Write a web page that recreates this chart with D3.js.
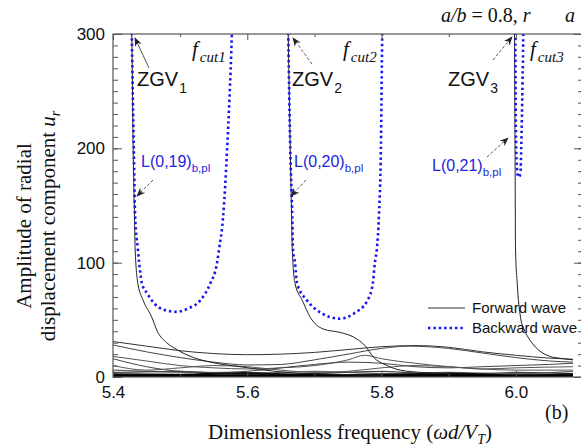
<!DOCTYPE html>
<html><head><meta charset="utf-8">
<script src="https://cdnjs.cloudflare.com/ajax/libs/d3/7.8.5/d3.min.js"></script>
<style>
html,body{margin:0;padding:0;background:#fff;}
svg{display:block;}
</style></head>
<body>
<script>
// ---------- data ----------
const xMajorTicks = [5.4, 5.6, 5.8, 6.0];
const xMinorTicks = [5.5, 5.7, 5.9];
const yMajorTicks = [0, 100, 200, 300];
const yMinorTicks = d3.range(0, 301, 10);

// backward waves (blue dotted)
const backward19 = [[5.4275,320],[5.428,300],[5.431,200],[5.433,140],[5.437,112],[5.439,100],[5.443,82],[5.451,73],[5.462,64],[5.475,59],[5.495,57],[5.512,60],[5.53,67],[5.545,82],[5.555,100],[5.558,112],[5.564,140],[5.570,200],[5.577,300],[5.578,320]];
const backward20 = [[5.6605,320],[5.661,300],[5.664,200],[5.667,140],[5.668,112],[5.671,100],[5.674,82],[5.689,67],[5.71,56],[5.738,51],[5.76,56],[5.779,67],[5.787,82],[5.790,100],[5.793,112],[5.796,140],[5.799,200],[5.801,300],[5.8015,320]];
const backward21 = [[5.9985,320],[5.999,300],[6.0,220],[6.001,190],[6.003,176],[6.005,175],[6.007,180],[6.008,200],[6.010,260],[6.011,300],[6.0112,320]];

// forward waves (black solid)
const zgv1 = [[5.427,320],[5.428,300],[5.430,200],[5.432,140],[5.433,112],[5.437,82],[5.445,67],[5.458,52],[5.466,40],[5.48,30],[5.495,24],[5.52,17],[5.545,13],[5.589,9],[5.62,6.5],[5.659,4],[5.72,2.5],[5.8,1.5]];
const zgv2 = [[5.6605,320],[5.661,300],[5.664,200],[5.666,140],[5.667,112],[5.671,82],[5.682,67],[5.694,52],[5.713,42],[5.738,39],[5.758,35],[5.776,27],[5.787,18],[5.808,10],[5.828,6],[5.86,4],[5.9,3]];
const zgv3 = [[5.9978,320],[5.998,300],[5.9988,200],[5.9995,112],[6.002,82],[6.007,52],[6.012,42],[6.018,35],[6.025,29],[6.033,24],[6.051,18],[6.071,16],[6.085,15]];
const fw1 = [[5.4,31],[5.45,27],[5.5,23],[5.55,20.5],[5.6,19.5],[5.65,20],[5.7,21.5],[5.75,24],[5.8,26.5],[5.85,27.5],[5.9,26],[5.95,22],[6.0,19],[6.05,16.5],[6.085,15.5]];
const fw2 = [[5.4,28],[5.45,22],[5.5,17],[5.55,13],[5.6,10.5],[5.65,11],[5.7,15],[5.75,20],[5.8,25],[5.84,27],[5.9,25],[5.95,21],[6.0,17],[6.05,14],[6.085,13]];
const fw3 = [[5.4,18],[5.45,14],[5.5,10],[5.55,8],[5.6,7],[5.65,8],[5.7,10],[5.75,15],[5.775,19],[5.8,16],[5.85,12],[5.9,9],[5.95,7],[6.0,6],[6.085,6]];
const fw4 = [[5.4,16],[5.45,9],[5.5,5],[5.55,4],[5.6,5],[5.65,8],[5.7,11],[5.75,13],[5.8,12],[5.85,9],[5.9,8],[5.95,9],[6.0,10],[6.05,11],[6.085,12]];
const fw5 = [[5.4,10],[5.45,6],[5.5,8],[5.55,10],[5.6,9],[5.65,6],[5.7,4],[5.75,5],[5.8,8],[5.85,10],[5.9,9],[5.95,7],[6.0,8],[6.085,9]];
const fw6 = [[5.4,6],[5.5,4],[5.6,3],[5.7,5],[5.8,3],[5.9,4],[6.0,3],[6.085,5]];
const fw7 = [[5.4,4],[5.5,5],[5.6,2],[5.7,3],[5.8,5],[5.9,2],[6.0,4],[6.085,3]];
const fw8 = [[5.4,2.5],[5.5,2],[5.6,3.5],[5.7,1.5],[5.8,2],[5.9,3],[6.0,1.5],[6.085,2.5]];
const fw9 = [[5.4,1],[5.5,1.5],[5.6,1],[5.7,2],[5.8,1],[5.9,1.5],[6.0,1],[6.085,1]];
const fw10 = [[5.4,0.4],[5.6,0.4],[5.8,0.4],[6.085,0.4]];

// ---------- layout ----------
const W = 581, H = 446;
const m = {left:113, right:583, top:34, bottom:377};
const svg = d3.select("body").append("svg").attr("width", W).attr("height", H);
const x = d3.scaleLinear().domain([5.4, 6.1]).range([m.left, m.right]);
const y = d3.scaleLinear().domain([0, 300]).range([m.bottom, m.top]);

svg.append("clipPath").attr("id","clip").append("rect")
  .attr("x", m.left).attr("y", m.top).attr("width", m.right-m.left).attr("height", m.bottom-m.top);

const line = d3.line().x(d=>x(d[0])).y(d=>y(d[1])).curve(d3.curveMonotoneX);
const plot = svg.append("g").attr("clip-path","url(#clip)");

const forward = [
  {d:fw1,c:"#333",w:1},{d:fw2,c:"#444",w:1},{d:fw3,c:"#555",w:1},{d:fw4,c:"#444",w:1},
  {d:fw5,c:"#555",w:1},{d:fw6,c:"#666",w:1.2},{d:fw7,c:"#444",w:1.2},{d:fw8,c:"#111",w:2},
  {d:fw9,c:"#000",w:2.5},{d:fw10,c:"#000",w:3},
  {d:zgv1,c:"#222",w:1},{d:zgv2,c:"#222",w:1},{d:zgv3,c:"#222",w:1}
];
forward.forEach(s=>{
  plot.append("path").attr("d", line(s.d)).attr("fill","none")
    .attr("stroke", s.c).attr("stroke-width", s.w);
});
[backward19, backward20, backward21].forEach(s=>{
  plot.append("path").attr("d", line(s)).attr("fill","none")
    .attr("stroke","#1515f0").attr("stroke-width",2.6).attr("stroke-dasharray","2.4 3");
});

// ---------- axes ----------
const axCol = "#555";
function styleAxis(g){
  g.select(".domain").remove();
  g.selectAll(".tick line").attr("stroke", axCol).attr("stroke-width",1);
  g.selectAll(".tick text").attr("font-family","'Liberation Sans', Arial, sans-serif")
    .attr("font-size",17).attr("fill","#111");
}
svg.append("g").attr("transform",`translate(0,${m.bottom})`)
  .call(d3.axisBottom(x).tickValues(xMajorTicks).tickSize(-6).tickPadding(9).tickFormat(d3.format(".1f"))).call(styleAxis);
svg.append("g").attr("transform",`translate(0,${m.bottom})`)
  .call(d3.axisBottom(x).tickValues(xMinorTicks).tickSize(-3).tickFormat("")).call(styleAxis);
svg.append("g").attr("transform",`translate(0,${m.top})`)
  .call(d3.axisTop(x).tickValues(xMajorTicks).tickSize(-6).tickFormat("")).call(styleAxis);
svg.append("g").attr("transform",`translate(0,${m.top})`)
  .call(d3.axisTop(x).tickValues(xMinorTicks).tickSize(-3).tickFormat("")).call(styleAxis);
svg.append("g").attr("transform",`translate(${m.left},0)`)
  .call(d3.axisLeft(y).tickValues(yMinorTicks).tickSize(-5).tickFormat("")).call(styleAxis);
svg.append("g").attr("transform",`translate(${m.left},0)`)
  .call(d3.axisLeft(y).tickValues(yMajorTicks).tickSize(-9).tickPadding(8)).call(styleAxis);
svg.append("g").attr("transform",`translate(${m.right},0)`)
  .call(d3.axisRight(y).tickValues(yMinorTicks).tickSize(-5).tickFormat("")).call(styleAxis);
svg.append("g").attr("transform",`translate(${m.right},0)`)
  .call(d3.axisRight(y).tickValues(yMajorTicks).tickSize(-9).tickFormat("")).call(styleAxis);
svg.append("rect").attr("x",m.left).attr("y",m.top).attr("width",m.right-m.left).attr("height",m.bottom-m.top)
  .attr("fill","none").attr("stroke",axCol).attr("stroke-width",1.2);

// ---------- annotations ----------
const sans = "'Liberation Sans', Arial, sans-serif";
const serif = "'Liberation Serif', 'Times New Roman', serif";
const defs = svg.append("defs");
defs.append("marker").attr("id","ah").attr("viewBox","0 0 10 10").attr("refX",9).attr("refY",5)
  .attr("markerWidth",9).attr("markerHeight",9).attr("orient","auto").attr("markerUnits","userSpaceOnUse")
  .append("path").attr("d","M0,1 L10,5 L0,9 L3,5 Z").attr("fill","#222");

function arrow(x1,y1,x2,y2,dash){
  svg.append("line").attr("x1",x1).attr("y1",y1).attr("x2",x2).attr("y2",y2)
    .attr("stroke","#444").attr("stroke-width",0.9).attr("stroke-dasharray",dash?"3 2":null)
    .attr("marker-end","url(#ah)");
}
arrow(149,68,135,38,false);
arrow(312,64,293,38,true);
arrow(493,60,512,37,true);
arrow(153,180,137,196,true);
arrow(306,180,291,196,true);
arrow(487,157,508,138,true);

function zgv(xp, n){
  const t = svg.append("text").attr("x",xp).attr("y",86).attr("font-family",sans).attr("font-size",20).attr("fill","#111");
  t.append("tspan").text("ZGV");
  t.append("tspan").attr("dx",1).attr("dy",7).attr("font-size",14).text(n);
}
zgv(137,"1"); zgv(292,"2"); zgv(448,"3");

function fcut(xp, n){
  const t = svg.append("text").attr("x",xp).attr("y",56).attr("font-family",serif).attr("font-style","italic").attr("font-size",21).attr("fill","#111");
  t.append("tspan").text("f");
  t.append("tspan").attr("dx",2).attr("dy",6).attr("font-size",15).text("cut"+n);
}
fcut(192,"1"); fcut(343,"2"); fcut(530,"3");

function lbl(xp, yp, txt){
  const t = svg.append("text").attr("x",xp).attr("y",yp).attr("font-family",sans).attr("font-size",16).attr("fill","#2323d8");
  t.append("tspan").text(txt);
  t.append("tspan").attr("dy",5).attr("font-size",11.5).text("b,pl");
}
lbl(141,167,"L(0,19)"); lbl(294,167,"L(0,20)"); lbl(432,171,"L(0,21)");

// legend
const legF = [[428,308],[465,308]], legB = [[428,328],[465,328]];
svg.append("line").attr("x1",legF[0][0]).attr("y1",legF[0][1]).attr("x2",legF[1][0]).attr("y2",legF[1][1]).attr("stroke","#333").attr("stroke-width",1);
svg.append("line").attr("x1",legB[0][0]).attr("y1",legB[0][1]).attr("x2",legB[1][0]).attr("y2",legB[1][1]).attr("stroke","#1515f0").attr("stroke-width",2.6).attr("stroke-dasharray","2.4 3");
svg.append("text").attr("x",472).attr("y",313).attr("font-family",sans).attr("font-size",15).attr("fill","#111").text("Forward wave");
svg.append("text").attr("x",472).attr("y",333).attr("font-family",sans).attr("font-size",15).attr("fill","#111").text("Backward wave");

// top text
const tt = svg.append("text").attr("x",441).attr("y",22).attr("font-family",serif).attr("font-size",20).attr("fill","#111");
tt.append("tspan").attr("font-style","italic").text("a/b");
tt.append("tspan").text(" = 0.8, ");
tt.append("tspan").attr("font-style","italic").text("r");
svg.append("text").attr("x",565).attr("y",22).attr("font-family",serif).attr("font-size",20).attr("font-style","italic").attr("fill","#111").text("a");

// axis titles
const xt = svg.append("text").attr("x",350).attr("y",439).attr("text-anchor","middle").attr("font-family",serif).attr("font-size",21).attr("fill","#111");
xt.append("tspan").text("Dimensionless frequency (");
xt.append("tspan").attr("font-style","italic").text("ωd/V");
xt.append("tspan").attr("font-style","italic").attr("font-size",14).attr("dy",5).text("T");
xt.append("tspan").attr("dy",-5).text(")");

svg.append("text").attr("x",545).attr("y",419).attr("font-family",serif).attr("font-size",20).attr("fill","#111").text("(b)");

const yt1 = svg.append("text").attr("transform","translate(31,226) rotate(-90)").attr("text-anchor","middle")
  .attr("font-family",serif).attr("font-size",21).attr("fill","#111").text("Amplitude of radial");
const yt2 = svg.append("text").attr("transform","translate(55,226) rotate(-90)").attr("text-anchor","middle")
  .attr("font-family",serif).attr("font-size",21).attr("fill","#111");
yt2.append("tspan").text("displacement component ");
yt2.append("tspan").attr("font-style","italic").text("u");
yt2.append("tspan").attr("font-style","italic").attr("font-size",14).attr("dy",5).text("r");
</script>
</body></html>
